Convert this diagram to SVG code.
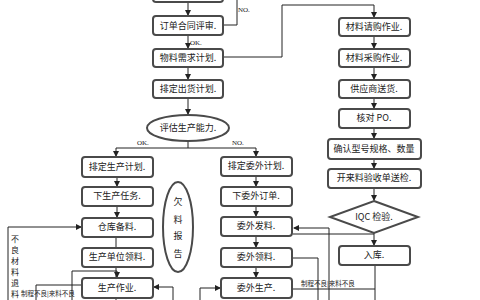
<svg xmlns="http://www.w3.org/2000/svg" width="480" height="300" viewBox="0 0 480 300">
<style>
.b{fill:#fff;stroke:#4a4a4a;stroke-width:2}
.t{font-family:"Noto Sans CJK SC","Liberation Serif",serif;font-size:9px;fill:#222;text-anchor:middle}
.s{font-family:"Liberation Serif","Noto Sans CJK SC",serif;font-size:7px;fill:#222}
.c{fill:none;stroke:#222;stroke-width:1}
</style>
<defs>
<marker id="a" markerWidth="6" markerHeight="6" refX="5" refY="3" orient="auto" markerUnits="userSpaceOnUse">
<path d="M0,0 L6,3 L0,6 Z" fill="#222"/>
</marker>
</defs>
<rect width="480" height="300" fill="#fff"/>
<g id="connectors" class="c">
<path d="M188,2 V15" marker-end="url(#a)"/>
<path d="M223,25 H237 V0"/>
<path d="M188,35 V48" marker-end="url(#a)"/>
<path d="M188,67 V79" marker-end="url(#a)"/>
<path d="M188,98 V114" marker-end="url(#a)"/>
<path d="M223,57 H282 V5 H374 V17" marker-end="url(#a)"/>
<path d="M374,36 V48" marker-end="url(#a)"/>
<path d="M374,67 V79" marker-end="url(#a)"/>
<path d="M374,98 V108" marker-end="url(#a)"/>
<path d="M374,128 V138" marker-end="url(#a)"/>
<path d="M374,159 V168" marker-end="url(#a)"/>
<path d="M374,188 V200" marker-end="url(#a)"/>
<path d="M374,233 V245" marker-end="url(#a)"/>
<path d="M375,265 V300"/>
<path d="M293,234 H374"/>
<path d="M188,142 V148"/>
<path d="M116,148 H256"/>
<path d="M116,148 V156" marker-end="url(#a)"/>
<path d="M256,148 V156" marker-end="url(#a)"/>
<path d="M117,177 V186" marker-end="url(#a)"/>
<path d="M117,206 V217" marker-end="url(#a)"/>
<path d="M116,237 V300"/>
<path d="M72,300 V271 H117 V277" marker-end="url(#a)"/>
<path d="M8,300 V227 H81" marker-end="url(#a)"/>
<path d="M36,300 V285 H82"/>
<path d="M173,300 V287 H154" marker-end="url(#a)"/>
<path d="M256,176 V186" marker-end="url(#a)"/>
<path d="M256,206 V216" marker-end="url(#a)"/>
<path d="M256,236 V247" marker-end="url(#a)"/>
<path d="M256,267 V277" marker-end="url(#a)"/>
<path d="M329,300 V228 H294" marker-end="url(#a)"/>
<path d="M293,258 H318 V300"/>
<path d="M200,300 V288 H220" marker-end="url(#a)"/>
<path d="M293,289 H375"/>
</g>
<g id="n0"><rect class="b" x="153" y="-20" width="70" height="22" rx="3"/></g>
<g id="n1"><rect class="b" x="153" y="16" width="70" height="19" rx="3"/><text class="t" x="188" y="29">订单合同评审.</text></g>
<g id="n2"><rect class="b" x="153" y="49" width="70" height="18" rx="3"/><text class="t" x="188" y="61">物料需求计划.</text></g>
<g id="n3"><rect class="b" x="153" y="80" width="70" height="18" rx="3"/><text class="t" x="188" y="92">排定出货计划.</text></g>
<g id="n4"><ellipse class="b" cx="188" cy="128" rx="41" ry="13"/><text class="t" x="188" y="131">评估生产能力.</text></g>
<g id="n5"><rect class="b" x="82" y="157" width="71" height="20" rx="3"/><text class="t" x="117" y="170">排定生产计划.</text></g>
<g id="n6"><rect class="b" x="82" y="187" width="71" height="19" rx="3"/><text class="t" x="117" y="199">下生产任务.</text></g>
<g id="n7"><rect class="b" x="82" y="218" width="71" height="19" rx="3"/><text class="t" x="117" y="230">仓库备料.</text></g>
<g id="n8"><rect class="b" x="82" y="248" width="71" height="19" rx="3"/><text class="t" x="117" y="260">生产单位领料.</text></g>
<g id="n9"><rect class="b" x="82" y="278" width="71" height="20" rx="3"/><text class="t" x="117" y="291">生产作业.</text></g>
<g id="n10"><ellipse class="b" cx="178" cy="227" rx="15" ry="45"/>
<text class="t" x="178" y="205">欠</text><text class="t" x="178" y="223">料</text><text class="t" x="178" y="239">报</text><text class="t" x="178" y="257">告</text></g>
<g id="n11"><rect class="b" x="221" y="157" width="71" height="19" rx="3"/><text class="t" x="256" y="169">排定委外计划.</text></g>
<g id="n12"><rect class="b" x="221" y="187" width="71" height="19" rx="3"/><text class="t" x="256" y="199">下委外订单.</text></g>
<g id="n13"><rect class="b" x="221" y="217" width="71" height="19" rx="3"/><text class="t" x="256" y="229">委外发料.</text></g>
<g id="n14"><rect class="b" x="221" y="248" width="71" height="19" rx="3"/><text class="t" x="256" y="260">委外领料.</text></g>
<g id="n15"><rect class="b" x="221" y="278" width="71" height="20" rx="3"/><text class="t" x="256" y="291">委外生产.</text></g>
<g id="n16"><rect class="b" x="339" y="18" width="71" height="18" rx="3"/><text class="t" x="374" y="30">材料请购作业.</text></g>
<g id="n17"><rect class="b" x="339" y="49" width="71" height="18" rx="3"/><text class="t" x="374" y="61">材料采购作业.</text></g>
<g id="n18"><rect class="b" x="339" y="80" width="71" height="18" rx="3"/><text class="t" x="374" y="92">供应商送货.</text></g>
<g id="n19"><rect class="b" x="339" y="109" width="71" height="19" rx="3"/><text class="t" x="374" y="121">核对 PO.</text></g>
<g id="n20"><rect class="b" x="328" y="139" width="93" height="20" rx="3"/><text class="t" x="374" y="152">确认型号规格、数量</text></g>
<g id="n21"><rect class="b" x="328" y="169" width="93" height="19" rx="3"/><text class="t" x="374" y="181">开来料验收单送检.</text></g>
<g id="n22"><polygon class="b" points="374,201 418,217 374,233 330,217"/><text class="t" x="374" y="220">IQC 检验.</text></g>
<g id="n23"><rect class="b" x="339" y="246" width="71" height="19" rx="3"/><text class="t" x="374" y="258">入库.</text></g>
<g id="labels">
<text class="s" x="190" y="45">OK.</text>
<text class="s" x="238" y="12">NO.</text>
<text class="s" x="137" y="145">OK.</text>
<text class="s" x="232" y="145">NO.</text>
<text class="s" x="21" y="296" style="font-family:'Noto Sans CJK SC',sans-serif;font-size:6.5px">制程不良|来料不良</text>
<text class="s" x="301" y="286" style="font-family:'Noto Sans CJK SC',sans-serif;font-size:6.5px">制程不良|来料不良</text>
<g class="t" style="font-size:8px">
<text x="15" y="242">不</text><text x="15" y="253">良</text><text x="15" y="264">材</text><text x="15" y="275">料</text><text x="15" y="286">退</text><text x="15" y="297">料</text>
</g>
</g>
</svg>
